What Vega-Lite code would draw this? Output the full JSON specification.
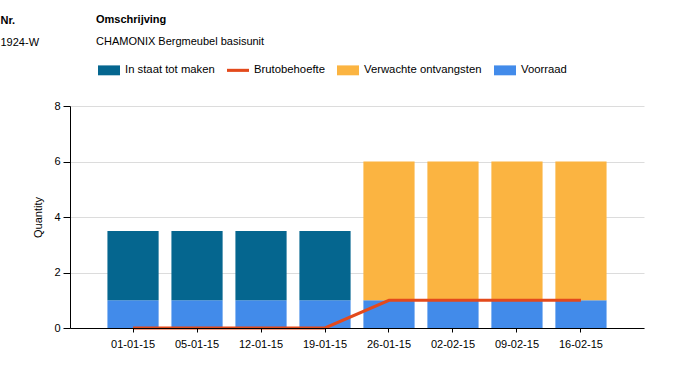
{
  "$schema": "https://vega.github.io/schema/vega-lite/v6.json",
  "padding": {"left": 0, "top": 9, "right": 10, "bottom": 5},
  "background": "white",
  "bounds": "flush",
  "spacing": 53,
  "resolve": {"scale": {"color": "independent"}},
  "config": {
    "font": "Liberation Sans",
    "view": {"stroke": null}
  },
  "datasets": {
    "rows": [
      {"date": "01-01-15", "series": "Voorraad", "value": 1},
      {"date": "05-01-15", "series": "Voorraad", "value": 1},
      {"date": "12-01-15", "series": "Voorraad", "value": 1},
      {"date": "19-01-15", "series": "Voorraad", "value": 1},
      {"date": "26-01-15", "series": "Voorraad", "value": 1},
      {"date": "02-02-15", "series": "Voorraad", "value": 1},
      {"date": "09-02-15", "series": "Voorraad", "value": 1},
      {"date": "16-02-15", "series": "Voorraad", "value": 1},
      {"date": "01-01-15", "series": "In staat tot maken", "value": 2.5},
      {"date": "05-01-15", "series": "In staat tot maken", "value": 2.5},
      {"date": "12-01-15", "series": "In staat tot maken", "value": 2.5},
      {"date": "19-01-15", "series": "In staat tot maken", "value": 2.5},
      {"date": "26-01-15", "series": "Verwachte ontvangsten", "value": 5},
      {"date": "02-02-15", "series": "Verwachte ontvangsten", "value": 5},
      {"date": "09-02-15", "series": "Verwachte ontvangsten", "value": 5},
      {"date": "16-02-15", "series": "Verwachte ontvangsten", "value": 5},
      {"date": "01-01-15", "series": "Brutobehoefte", "value": 0},
      {"date": "05-01-15", "series": "Brutobehoefte", "value": 0},
      {"date": "12-01-15", "series": "Brutobehoefte", "value": 0},
      {"date": "19-01-15", "series": "Brutobehoefte", "value": 0},
      {"date": "26-01-15", "series": "Brutobehoefte", "value": 1},
      {"date": "02-02-15", "series": "Brutobehoefte", "value": 1},
      {"date": "09-02-15", "series": "Brutobehoefte", "value": 1},
      {"date": "16-02-15", "series": "Brutobehoefte", "value": 1}
    ],
    "header": [
      {"nr": "Nr.", "oms": "Omschrijving"},
      {"nr": "1924-W", "oms": "CHAMONIX Bergmeubel basisunit"}
    ]
  },
  "vconcat": [
    {
      "width": 52,
      "height": 44,
      "data": {"name": "header"},
      "encoding": {
        "y": {
          "field": "nr", "type": "nominal", "sort": null,
          "scale": {"paddingInner": 0, "paddingOuter": 0},
          "axis": {
            "title": null, "domain": false, "ticks": false, "tickSize": 0,
            "labelAlign": "left", "labelPadding": 70, "labelFontSize": 11,
            "labelColor": "#000", "labelFont": "Liberation Sans",
            "labelFontWeight": {"expr": "datum.value === 'Nr.' ? 'bold' : 'normal'"}
          }
        },
        "text": {"field": "oms"}
      },
      "layer": [
        {
          "transform": [{"filter": "datum.nr === 'Nr.'"}],
          "mark": {"type": "text", "align": "left", "baseline": "middle", "fontSize": 11, "fontWeight": "bold", "color": "#000"}
        },
        {
          "transform": [{"filter": "datum.nr !== 'Nr.'"}],
          "mark": {"type": "text", "align": "left", "baseline": "middle", "fontSize": 11, "color": "#000"}
        }
      ]
    },
    {
      "width": 574,
      "height": 222,
      "data": {"name": "rows"},
      "layer": [
        {
          "transform": [{"filter": "datum.series !== 'Brutobehoefte'"}],
          "mark": {"type": "bar"},
          "encoding": {
            "x": {
              "field": "date", "type": "nominal", "sort": null,
              "scale": {"paddingInner": 0.2, "paddingOuter": 0.585},
              "axis": {
                "title": null, "labelAngle": 0, "labelFontSize": 11, "labelColor": "#000",
                "domainColor": "#000", "tickColor": "#000", "tickSize": 4, "labelPadding": 6,
                "zindex": 1
              }
            },
            "y": {
              "field": "value", "type": "quantitative", "stack": "zero",
              "scale": {"domain": [0, 8]},
              "axis": {
                "values": [0, 2, 4, 6, 8], "title": "Quantity", "titleFontWeight": "normal",
                "titleFontSize": 11, "titleColor": "#000", "titlePadding": 10,
                "labelFontSize": 11, "labelColor": "#000", "domainColor": "#000",
                "tickColor": "#000", "tickSize": 7, "labelPadding": 3,
                "gridColor": "#dcdcdc"
              }
            },
            "color": {
              "field": "series", "type": "nominal",
              "scale": {
                "domain": ["In staat tot maken", "Brutobehoefte", "Verwachte ontvangsten", "Voorraad"],
                "range": ["#05668f", "#e34a1c", "#fbb441", "#428bea"]
              },
              "legend": {
                "title": null, "orient": "none", "legendX": 28, "legendY": -47,
                "direction": "horizontal", "columns": 4, "symbolSize": 484,
                "columnPadding": 12, "labelOffset": 5, "labelFontSize": 11.3,
                "labelColor": "#000", "labelFont": "Liberation Sans", "labelLimit": 300,
                "encode": {
                  "symbols": {
                    "update": {
                      "shape": {"signal": "datum.value === 'Brutobehoefte' ? 'M-1,-0.14H1V0.14H-1Z' : 'M-1,-0.45H1V0.45H-1Z'"},
                      "fill": {"scale": "color", "field": "value"},
                      "fillOpacity": {"value": 1},
                      "strokeWidth": {"value": 0}
                    }
                  }
                }
              }
            },
            "order": {"field": "series", "sort": "descending"}
          }
        },
        {
          "transform": [{"filter": "datum.series === 'Brutobehoefte'"}],
          "mark": {"type": "line", "strokeWidth": 3},
          "encoding": {
            "x": {"field": "date", "type": "nominal", "sort": null},
            "y": {"field": "value", "type": "quantitative", "stack": null},
            "color": {"field": "series", "type": "nominal"}
          }
        }
      ]
    }
  ]
}
